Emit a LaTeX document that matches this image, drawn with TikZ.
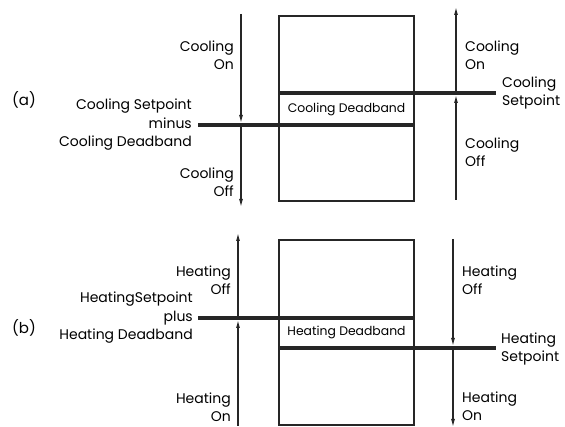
\documentclass[tikz,border=0pt]{standalone}
\usepackage{fontspec}
\setmainfont{Poppins}
\usepackage{tikz}
\usetikzlibrary{positioning,arrows.meta,calc}
\tikzset{
  lbl/.style    ={inner sep=0pt, font=\fontsize{14}{18.5}\selectfont, text=black},
  lblL/.style   ={lbl, align=right, anchor=east},
  lblR/.style   ={lbl, align=left, anchor=west},
  bandlbl/.style={inner sep=0pt, font=\fontsize{12.4}{14}\selectfont, text=black},
  tag/.style    ={inner sep=0pt, font=\fontsize{15}{17}\selectfont, text=black},
  band/.style   ={draw=black!85, line width=2pt, minimum width=135pt, inner sep=0pt},
  setline/.style={draw=black!85, line width=4pt},
  arr/.style    ={-{Latex[length=8pt,width=4pt]}, line width=1.2pt, draw=black!85},
}

\begin{document}
\begin{tikzpicture}[x=1pt,y=-1pt]
  \useasboundingbox (0,0) rectangle (565,427);

  % ===== (a) cooling =====
  \node[band, minimum height=185pt] (boxA) at (346.5,108.5) {};
  \coordinate (spA) at (496,93);    % cooling setpoint
  \coordinate (mdA) at (198,125);   % setpoint minus deadband
  \draw[setline] (boxA.west |- spA) -- (spA);
  \draw[setline] (mdA) -- (boxA.east |- mdA);

  % ---- left arrow (falling temperature) ----
  \coordinate (aL1) at (241,14);
  \coordinate (aL2) at (241,125);
  \coordinate (aL3) at (241,207);
  \draw[arr, shorten >=2pt] (aL1) -- (aL2);
  \draw[arr] (aL2) -- (aL3);

  % ---- right arrow (rising temperature) ----
  \coordinate (aR1) at (456,200);
  \coordinate (aR2) at (456,93);
  \coordinate (aR3) at (456,7);
  \draw[arr, shorten >=2pt] (aR1) -- (aR2);
  \draw[arr] (aR2) -- (aR3);

  % ---- labels ----
  \node[tag] (tagA) at (24,100) {(a)};
  \node[bandlbl] (dbA) at (346.5,109) {Cooling Deadband};
  \node[lblL] (onAL) at (234,55) {Cooling\\On};
  \node[lblL] (spAL) at (192,125) {Cooling Setpoint\\minus\\Cooling Deadband};
  \node[lblL] (offAL) at (234,182) {Cooling\\Off};
  \node[lblR] (onAR) at (465,55) {Cooling\\On};
  \node[lblR] (spAR) at (502,93) {Cooling\\Setpoint};
  \node[lblR] (offAR) at (465,152) {Cooling\\Off};

  % ===== (b) heating =====
  \node[band, minimum height=185pt] (boxB) at (346.5,332.5) {};
  \coordinate (pdB) at (198,318);   % setpoint plus deadband
  \coordinate (spB) at (496,348);   % heating setpoint
  \draw[setline] (pdB) -- (boxB.east |- pdB);
  \draw[setline] (boxB.west |- spB) -- (spB);

  % ---- left arrow (rising temperature) ----
  \coordinate (bL1) at (238,426);
  \coordinate (bL2) at (238,318);
  \coordinate (bL3) at (238,233);
  \draw[arr, shorten >=2pt] (bL1) -- (bL2);
  \draw[arr] (bL2) -- (bL3);

  % ---- right arrow (falling temperature) ----
  \coordinate (bR1) at (453,239);
  \coordinate (bR2) at (453,348);
  \coordinate (bR3) at (453,427);
  \draw[arr, shorten >=2pt] (bR1) -- (bR2);
  \draw[arr] (bR2) -- (bR3);

  % ---- labels ----
  \node[tag] (tagB) at (24,328) {(b)};
  \node[bandlbl] (dbB) at (346.5,332) {Heating Deadband};
  \node[lblL] (offBL) at (231,280) {Heating\\Off};
  \node[lblL] (spBL) at (193,318) {HeatingSetpoint\\plus\\Heating Deadband};
  \node[lblL] (onBL) at (231,407) {Heating\\On};
  \node[lblR] (offBR) at (462,280) {Heating\\Off};
  \node[lblR] (spBR) at (501,349) {Heating\\Setpoint};
  \node[lblR] (onBR) at (462,406) {Heating\\On};

\end{tikzpicture}
\end{document}
